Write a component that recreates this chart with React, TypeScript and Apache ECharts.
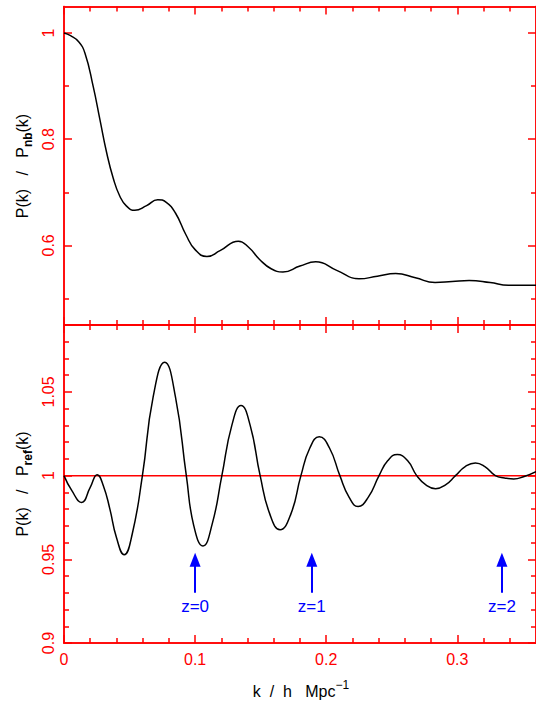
import React, { useEffect, useRef } from "react";
import * as echarts from "echarts";

const RED = "#ff0000";
const BLUE = "#0000ff";
const FONT = "Liberation Sans, Arial, Helvetica, sans-serif";

// Top panel: P(k)/P_nb(k)
const kTop = [0, 0.005, 0.011, 0.016, 0.0223, 0.0274, 0.0325, 0.0375, 0.0425, 0.0477, 0.054, 0.063, 0.0715, 0.078, 0.085, 0.093, 0.1, 0.109, 0.119, 0.133, 0.141, 0.149, 0.158, 0.167, 0.18, 0.192, 0.208, 0.225, 0.239, 0.253, 0.268, 0.283, 0.296, 0.309, 0.325, 0.339, 0.36];
const ratioTop = [1.0, 0.995, 0.984, 0.962, 0.899, 0.837, 0.775, 0.727, 0.693, 0.674, 0.666, 0.675, 0.686, 0.681, 0.661, 0.62, 0.592, 0.579, 0.59, 0.608, 0.596, 0.574, 0.556, 0.55, 0.561, 0.569, 0.553, 0.537, 0.542, 0.547, 0.539, 0.53, 0.532, 0.534, 0.53, 0.525, 0.525];

// Bottom panel: P(k)/P_ref(k)
const kBot = [0, 0.006, 0.0134, 0.02, 0.0253, 0.03, 0.035, 0.04, 0.0459, 0.052, 0.0598, 0.068, 0.0768, 0.085, 0.0933, 0.099, 0.106, 0.113, 0.1204, 0.128, 0.135, 0.142, 0.1496, 0.157, 0.1648, 0.173, 0.1807, 0.1875, 0.1947, 0.2025, 0.2104, 0.2175, 0.2243, 0.232, 0.2403, 0.247, 0.2542, 0.262, 0.269, 0.276, 0.2834, 0.291, 0.2986, 0.306, 0.3138, 0.321, 0.329, 0.336, 0.343, 0.351, 0.36];
const ratioBot = [1.0, 0.991, 0.984, 0.993, 1.0006, 0.994, 0.98, 0.963, 0.9527, 0.965, 1.0, 1.047, 1.0678, 1.047, 1.0, 0.97, 0.958, 0.971, 1.0, 1.03, 1.0419, 1.03, 1.0, 0.977, 0.9677, 0.977, 1.0, 1.0165, 1.0232, 1.0165, 1.0, 0.987, 0.9816, 0.987, 1.0, 1.009, 1.0126, 1.009, 1.0, 0.9945, 0.9922, 0.9945, 1.0, 1.0054, 1.0076, 1.0054, 1.0, 0.9986, 0.998, 0.9995, 1.0024];

// Reference line
const refK = [0, 0.36];
const refV = [1, 1];

// Redshift arrows
const arrowK = [0.1, 0.189, 0.334];
const arrowLabels = ["z=0", "z=1", "z=2"];
const arrowBase = 0.93;
const arrowTip = 0.9497;

// Ticks
const xMajor = [0, 0.1, 0.2, 0.3];
const xMinor = [0.02, 0.04, 0.06, 0.08, 0.12, 0.14, 0.16, 0.18, 0.22, 0.24, 0.26, 0.28, 0.32, 0.34];
const yTopMajor = [0.6, 0.8, 1];
const yTopMinor = [0.5, 0.7, 0.9];
const yBotMajor = [0.9, 0.95, 1, 1.05];
const yBotMinor = [0.91, 0.92, 0.93, 0.94, 0.96, 0.97, 0.98, 0.99, 1.01, 1.02, 1.03, 1.04, 1.06, 1.07, 1.08];

const X_MIN = 0, X_MAX = 0.36;
const YT_MIN = 0.45, YT_MAX = 1.05;
const YB_MIN = 0.9, YB_MAX = 1.09;

function axisBase(len: number, values: number[]) {
  return {
    type: "value" as const,
    axisLine: { show: true, onZero: false, lineStyle: { color: RED, width: 1.5 } },
    axisTick: { show: true, inside: true, length: len, customValues: values, lineStyle: { color: RED, width: 1.5 } },
    splitLine: { show: false },
  };
}

function xAx(grid: number, pos: string, values: number[], len: number, labels: boolean) {
  return {
    ...axisBase(len, values),
    gridIndex: grid,
    position: pos,
    min: X_MIN,
    max: X_MAX,
    axisLabel: labels
      ? { show: true, customValues: xMajor, color: RED, fontSize: 16, fontFamily: FONT, margin: 8, formatter: (v: number) => String(v) }
      : { show: false },
  };
}

function yAx(grid: number, pos: string, values: number[], len: number, labelVals: number[] | null, min: number, max: number) {
  return {
    ...axisBase(len, values),
    gridIndex: grid,
    position: pos,
    min,
    max,
    axisLabel: labelVals
      ? { show: true, customValues: labelVals, rotate: 90, color: RED, fontSize: 16, fontFamily: FONT, margin: 8, formatter: (v: number) => String(v) }
      : { show: false },
  };
}

export default function App() {
  const ref = useRef<HTMLDivElement>(null);
  useEffect(() => {
    if (!ref.current) return;
    const chart = echarts.init(ref.current, null, { renderer: "svg" });
    const topData = kTop.map((k, i) => [k, ratioTop[i]]);
    const botData = kBot.map((k, i) => [k, ratioBot[i]]);
    const refData = refK.map((k, i) => [k, refV[i]]);
    const arrows = arrowK.map((k, i) => [
      { coord: [k, arrowBase], name: arrowLabels[i] },
      { coord: [k, arrowTip] },
    ]);

    chart.setOption({
      animation: false,
      backgroundColor: "#ffffff",
      grid: [
        { left: 64, top: 6.5, width: 473, height: 318.5 },
        { left: 64, top: 325, width: 473, height: 318 },
      ],
      xAxis: [
        xAx(0, "bottom", xMajor, 8, false),
        xAx(0, "bottom", xMinor, 5, false),
        xAx(0, "top", xMajor, 8, false),
        xAx(0, "top", xMinor, 5, false),
        xAx(1, "bottom", xMajor, 8, true),
        xAx(1, "bottom", xMinor, 5, false),
        xAx(1, "top", xMajor, 8, false),
        xAx(1, "top", xMinor, 5, false),
      ],
      yAxis: [
        yAx(0, "left", yTopMajor, 8, yTopMajor, YT_MIN, YT_MAX),
        yAx(0, "left", yTopMinor, 5, null, YT_MIN, YT_MAX),
        yAx(0, "right", yTopMajor, 8, null, YT_MIN, YT_MAX),
        yAx(0, "right", yTopMinor, 5, null, YT_MIN, YT_MAX),
        yAx(1, "left", yBotMajor, 8, yBotMajor, YB_MIN, YB_MAX),
        yAx(1, "left", yBotMinor, 5, null, YB_MIN, YB_MAX),
        yAx(1, "right", yBotMajor, 8, null, YB_MIN, YB_MAX),
        yAx(1, "right", yBotMinor, 5, null, YB_MIN, YB_MAX),
      ],
      series: [
        {
          type: "line",
          xAxisIndex: 0,
          yAxisIndex: 0,
          data: topData,
          smooth: 0.5,
          showSymbol: false,
          symbol: "none",
          lineStyle: { color: "#000", width: 1.5 },
          silent: true,
        },
        {
          type: "line",
          xAxisIndex: 4,
          yAxisIndex: 4,
          data: refData,
          showSymbol: false,
          symbol: "none",
          lineStyle: { color: RED, width: 1.5 },
          silent: true,
          markLine: {
            silent: true,
            animation: false,
            symbol: ["none", "triangle"],
            symbolSize: [11, 14],
            lineStyle: { color: BLUE, width: 2, type: "solid" },
            itemStyle: { color: BLUE },
            label: {
              show: true,
              position: "start",
              distance: 5,
              color: BLUE,
              fontSize: 17,
              fontFamily: FONT,
              formatter: (p: any) => p.name,
            },
            emphasis: { disabled: true },
            data: arrows,
          },
        },
        {
          type: "line",
          xAxisIndex: 4,
          yAxisIndex: 4,
          data: botData,
          smooth: 0.5,
          showSymbol: false,
          symbol: "none",
          lineStyle: { color: "#000", width: 1.5 },
          silent: true,
        },
      ],
      graphic: [
        {
          type: "text",
          x: 22,
          y: 166,
          rotation: Math.PI / 2,
          style: {
            text: "P(k)   /   P{sub|nb}(k)",
            fontSize: 16,
            fontFamily: FONT,
            lineHeight: 24,
            fill: "#000",
            align: "center",
            verticalAlign: "middle",
            rich: { sub: { fontSize: 12, fontWeight: "bold", fontFamily: FONT, lineHeight: 12, verticalAlign: "bottom", fill: "#000" } },
          },
        },
        {
          type: "text",
          x: 22,
          y: 484,
          rotation: Math.PI / 2,
          style: {
            text: "P(k)   /   P{sub|ref}(k)",
            fontSize: 16,
            fontFamily: FONT,
            lineHeight: 24,
            fill: "#000",
            align: "center",
            verticalAlign: "middle",
            rich: { sub: { fontSize: 12, fontWeight: "bold", fontFamily: FONT, lineHeight: 12, verticalAlign: "bottom", fill: "#000" } },
          },
        },
        {
          type: "text",
          x: 301,
          y: 691,
          style: {
            text: "k  /  h   Mpc{sup|−1}",
            fontSize: 16,
            fontFamily: FONT,
            lineHeight: 24,
            fill: "#000",
            align: "center",
            verticalAlign: "middle",
            rich: { sup: { fontSize: 12, fontFamily: FONT, lineHeight: 12, verticalAlign: "top", fill: "#000" } },
          },
        },
      ],
    });
    return () => chart.dispose();
  }, []);
  return (
    <div
      ref={ref}
      style={{ position: "absolute", left: 0, top: 0, width: 536, height: 702, background: "#fff" }}
    />
  );
}
